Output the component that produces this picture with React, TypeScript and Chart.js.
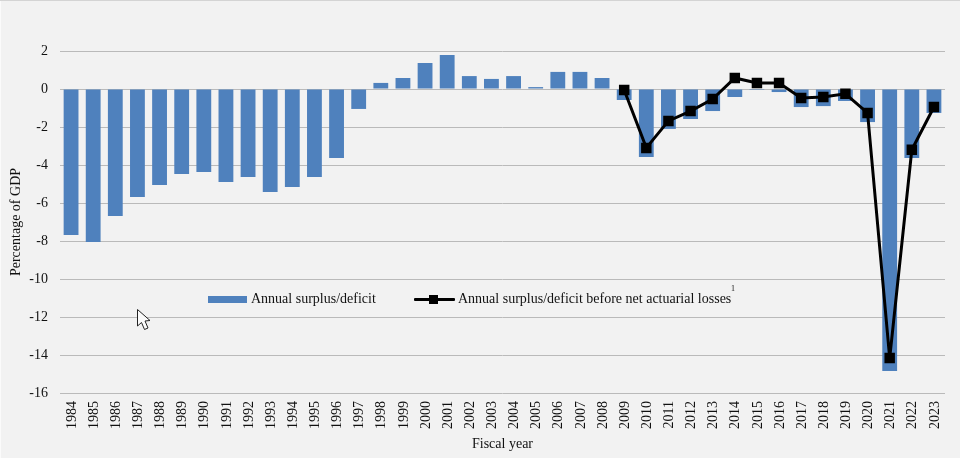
import React, { useEffect, useRef } from "react";
import { Chart, registerables } from "chart.js";

Chart.register(...registerables);

const fiscalYears = [
  "1984","1985","1986","1987","1988","1989","1990","1991","1992","1993",
  "1994","1995","1996","1997","1998","1999","2000","2001","2002","2003",
  "2004","2005","2006","2007","2008","2009","2010","2011","2012","2013",
  "2014","2015","2016","2017","2018","2019","2020","2021","2022","2023",
];

const surplusDeficit = [
  -7.68,-8.05,-6.68,-5.68,-5.05,-4.47,-4.37,-4.89,-4.63,-5.42,
  -5.16,-4.63,-3.63,-1.05,0.32,0.58,1.37,1.79,0.68,0.53,
  0.68,0.1,0.9,0.9,0.58,-0.58,-3.58,-2.1,-1.58,-1.16,
  -0.42,-0.05,-0.16,-0.95,-0.9,-0.63,-1.74,-14.84,-3.63,-1.26,
];

const beforeActuarialLosses = [
  null,null,null,null,null,null,null,null,null,null,
  null,null,null,null,null,null,null,null,null,null,
  null,null,null,null,null,-0.05,-3.1,-1.68,-1.16,-0.53,
  0.58,0.32,0.32,-0.47,-0.42,-0.25,-1.26,-14.16,-3.2,-0.95,
];

const barLabel = "Annual surplus/deficit";
const lineLabel = "Annual surplus/deficit before net actuarial losses";
const lineNote = "1";
const xTitle = "Fiscal year";
const yTitle = "Percentage of GDP";

const serif = '"Liberation Serif", serif';
const BAR = "#4f81bd";
const INK = "#111111";

export default function App() {
  const ref = useRef<HTMLCanvasElement | null>(null);

  useEffect(() => {
    document.body.style.margin = "0";
    const chart = new Chart(ref.current!, {
      data: {
        labels: fiscalYears,
        datasets: [
          {
            type: "line",
            label: lineLabel,
            data: beforeActuarialLosses,
            borderColor: "#000000",
            backgroundColor: "#000000",
            borderWidth: 3,
            pointStyle: "rect",
            pointRadius: 7.4,
            pointBorderWidth: 0,
            tension: 0,
            spanGaps: false,
            order: 0,
          },
          {
            type: "bar",
            label: barLabel,
            data: surplusDeficit,
            backgroundColor: BAR,
            borderWidth: 0,
            categoryPercentage: 1,
            barPercentage: 0.67,
            order: 1,
          },
        ],
      } as any,
      options: {
        responsive: false,
        animation: false,
        layout: { padding: { top: 51, right: 15, left: 0, bottom: 0 } },
        plugins: { legend: { display: false }, tooltip: { enabled: false } },
        scales: {
          x: {
            position: "bottom",
            grid: { display: false },
            border: { display: false },
            ticks: {
              autoSkip: false,
              minRotation: 90,
              maxRotation: 90,
              padding: 0,
              labelOffset: 1,
              color: INK,
              font: { family: serif, size: 14 },
            },
            title: {
              display: true,
              text: xTitle,
              color: INK,
              font: { family: serif, size: 14 },
              padding: { top: 0, bottom: 5 },
            },
            afterFit: (s: any) => { s.height = 65; },
          },
          y: {
            min: -16,
            max: 2,
            grid: { color: "#bababa", lineWidth: 1, drawTicks: false },
            border: { display: false },
            ticks: {
              stepSize: 2,
              padding: 12,
              color: INK,
              font: { family: serif, size: 14 },
            },
            title: {
              display: true,
              text: yTitle,
              color: INK,
              font: { family: serif, size: 14 },
              padding: { top: 8, bottom: 0 },
            },
            afterFit: (s: any) => { s.width = 60; },
          },
        },
      },
    });
    return () => chart.destroy();
  }, []);

  const legendText: React.CSSProperties = {
    position: "absolute",
    top: 290,
    fontFamily: serif,
    fontSize: 14,
    lineHeight: "18px",
    color: INK,
    whiteSpace: "nowrap",
  };

  return (
    <div style={{ position: "relative", width: 960, height: 458, background: "#f2f2f2", overflow: "hidden" }}>
      <canvas ref={ref} width={960} height={458} style={{ display: "block", position: "absolute", left: 0, top: 0 }} />
      <div style={{ position: "absolute", left: 0, top: 0, width: 960, height: 1, background: "#d4d4d4" }} />
      <div style={{ position: "absolute", left: 0, top: 1, width: 1, height: 457, background: "#fbfbfb" }} />
      <div
        style={{
          position: "absolute", left: 0, top: 4, width: 1, height: 454,
          background: "repeating-linear-gradient(to bottom, transparent 0, transparent 26px, #c4c4c4 26px, #c4c4c4 27px)",
          backgroundSize: "1px 26px",
        }}
      />
      <div style={{ position: "absolute", left: 208, top: 296, width: 39, height: 7, background: BAR }} />
      <span style={{ ...legendText, left: 251 }}>{barLabel}</span>
      <div style={{ position: "absolute", left: 414, top: 298, width: 41, height: 3, background: "#000", borderRadius: 1 }} />
      <div style={{ position: "absolute", left: 429, top: 295, width: 9, height: 9, background: "#000" }} />
      <span style={{ ...legendText, left: 458 }}>{lineLabel}</span>
      <span style={{ ...legendText, left: 731, top: 284, fontSize: 8, lineHeight: "10px" }}>{lineNote}</span>
      <svg style={{ position: "absolute", left: 130, top: 305, overflow: "visible" }} width={24} height={30}>
        <path d="M7.5 4.5 L7.5 21 L11.5 17.5 L14.5 24.5 L18 23 L15 16 L20 15.5 Z" fill="#fbfbfb" stroke="#222" strokeWidth={1} />
      </svg>
    </div>
  );
}
